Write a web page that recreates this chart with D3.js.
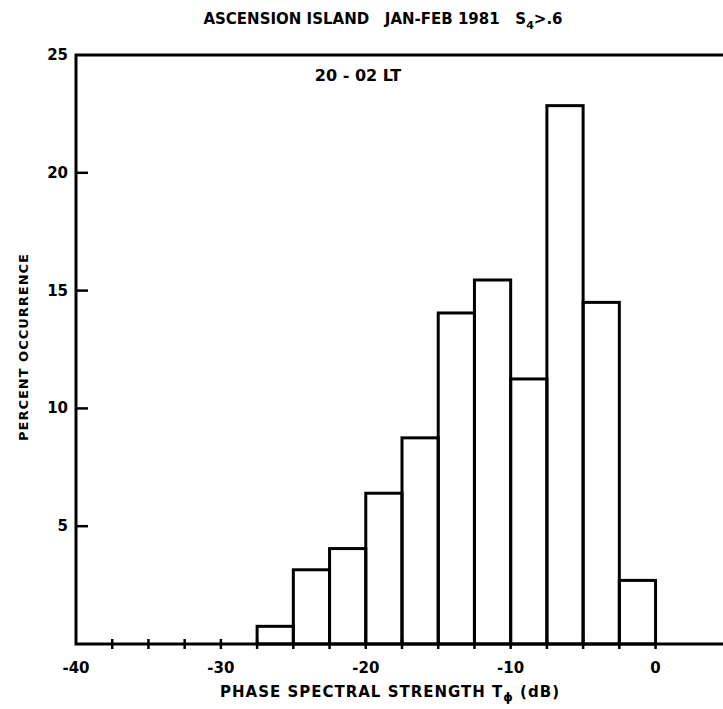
<!DOCTYPE html>
<html>
<head>
<meta charset="utf-8">
<script src="https://cdn.jsdelivr.net/npm/d3@7"></script>
<style>
  body { margin: 0; background: #fff; }
  text { font-family: "DejaVu Sans", sans-serif; font-weight: bold; fill: #000; }
</style>
</head>
<body>
<div id="chart"></div>
<script>
// histogram bins (dB) and percent occurrence
const binStarts = [-27.5, -25, -22.5, -20, -17.5, -15, -12.5, -10, -7.5, -5, -2.5];
const binWidth = 2.5;
const percents = [0.75, 3.15, 4.05, 6.4, 8.75, 14.05, 15.45, 11.25, 22.85, 14.5, 2.7];
const xTickLabels = [-40, -30, -20, -10, 0];
const yTickLabels = [5, 10, 15, 20, 25];

const width = 723, height = 709;
const margin = { top: 55, right: -5, bottom: 65, left: 76 };

const svg = d3.select('#chart').append('svg')
  .attr('width', width)
  .attr('height', height);

const x = d3.scaleLinear().domain([-40, 5]).range([margin.left, width - margin.right]);
const y = d3.scaleLinear().domain([0, 25]).range([height - margin.bottom, margin.top]);

// bars
svg.selectAll('.bar')
  .data(binStarts)
  .enter()
  .append('rect')
  .attr('class', 'bar')
  .attr('x', d => x(d))
  .attr('y', (d, i) => y(percents[i]))
  .attr('width', d => x(d + binWidth) - x(d))
  .attr('height', (d, i) => y(0) - y(percents[i]))
  .attr('fill', 'none')
  .attr('stroke', '#000')
  .attr('stroke-width', 3);

// frame: left axis, bottom axis, top line
const frame = svg.append('g').attr('stroke', '#000').attr('stroke-width', 3).attr('fill', 'none');
frame.append('path')
  .attr('d', `M${width},${y(25)}H${x(-40)}V${y(0)}H${width}`);

// x ticks every 2.5 dB, up to 0
const xt = d3.range(-37.5, 0.1, 2.5);
svg.append('g').selectAll('line')
  .data(xt)
  .enter()
  .append('line')
  .attr('x1', d => x(d)).attr('x2', d => x(d))
  .attr('y1', y(0) - 5).attr('y2', y(0) + 5)
  .attr('stroke', '#000').attr('stroke-width', 2.5);

svg.append('g').selectAll('text')
  .data(xTickLabels)
  .enter()
  .append('text')
  .attr('x', d => x(d))
  .attr('y', y(0) + 29)
  .attr('text-anchor', 'middle')
  .style('font-size', '15px')
  .text(d => d < 0 ? '-' + Math.abs(d) : d);

// y ticks (inward)
svg.append('g').selectAll('line')
  .data(yTickLabels.filter(d => d < 25))
  .enter()
  .append('line')
  .attr('x1', x(-40)).attr('x2', x(-40) + 12)
  .attr('y1', d => y(d)).attr('y2', d => y(d))
  .attr('stroke', '#000').attr('stroke-width', 2.5);

svg.append('g').selectAll('text')
  .data(yTickLabels)
  .enter()
  .append('text')
  .attr('x', x(-40) - 8)
  .attr('y', d => y(d) + 5)
  .attr('text-anchor', 'end')
  .style('font-size', '15px')
  .text(d => d);

// titles
const title = svg.append('text')
  .attr('x', 383)
  .attr('y', 24)
  .attr('text-anchor', 'middle')
  .style('font-size', '15px');
title.append('tspan').text('ASCENSION ISLAND\u00a0\u00a0\u00a0JAN-FEB 1981\u00a0\u00a0\u00a0S');
title.append('tspan').attr('dy', 5).style('font-size', '11px').text('4');
title.append('tspan').attr('dy', -5).text('>.6');

svg.append('text')
  .attr('x', 358)
  .attr('y', 81)
  .attr('text-anchor', 'middle')
  .style('font-size', '16px')
  .text('20 - 02 LT');

svg.append('text')
  .attr('transform', `translate(28,${347}) rotate(-90)`)
  .attr('text-anchor', 'middle')
  .style('font-size', '13px')
  .style('letter-spacing', '1px')
  .text('PERCENT OCCURRENCE');

const xl = svg.append('text')
  .attr('x', 390)
  .attr('y', 697)
  .attr('text-anchor', 'middle')
  .style('font-size', '15px')
  .style('letter-spacing', '1px');
xl.append('tspan').text('PHASE SPECTRAL STRENGTH  T');
xl.append('tspan').attr('dy', 4).style('font-size', '12px').text('\u03d5');
xl.append('tspan').attr('dy', -4).text(' (dB)');
</script>
</body>
</html>
